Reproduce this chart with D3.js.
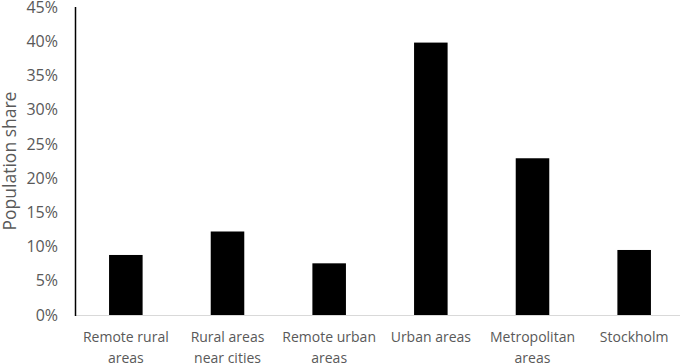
<!DOCTYPE html>
<html>
<head>
<meta charset="utf-8">
<script src="https://cdn.jsdelivr.net/npm/d3@7"></script>
<style>
  body { margin: 0; background: #fff; }
  svg { display: block; }
  text { font-family: "Open Sans", sans-serif; fill: #595959; }
</style>
</head>
<body>
<svg id="chart" width="685" height="363"></svg>
<script>
// Population share by area type
var categories = [
  ["Remote rural", "areas"],
  ["Rural areas", "near cities"],
  ["Remote urban", "areas"],
  ["Urban areas"],
  ["Metropolitan", "areas"],
  ["Stockholm"]
];
var shares = [0.0877, 0.122, 0.0755, 0.398, 0.229, 0.095];
var yTicks = [0, 0.05, 0.10, 0.15, 0.20, 0.25, 0.30, 0.35, 0.40, 0.45];

var svg = d3.select("#chart"),
    margin = { top: 7, right: 0, bottom: 48, left: 75 },
    width = 685 - margin.left - margin.right,
    height = 363 - margin.top - margin.bottom;

var g = svg.append("g")
    .attr("transform", "translate(" + margin.left + "," + margin.top + ")");

var x = d3.scaleBand()
    .domain(d3.range(categories.length))
    .range([0, width])
    .paddingInner(0.67)
    .paddingOuter(0.335);

var y = d3.scaleLinear()
    .domain([0, 0.45])
    .range([height, 0]);

// y axis ticks (no tick marks, just labels)
var yAxis = g.append("g")
    .call(d3.axisLeft(y).tickValues(yTicks).tickFormat(d3.format(".0%")).tickSize(0).tickPadding(17));
yAxis.select(".domain").remove();
yAxis.selectAll("text")
    .style("font-size", "16px")
    .attr("fill", "#595959");

// bars
g.selectAll(".bar")
    .data(shares)
    .enter()
    .append("rect")
    .attr("class", "bar")
    .attr("x", function(d, i) { return x(i); })
    .attr("y", function(d) { return y(d); })
    .attr("width", x.bandwidth())
    .attr("height", function(d) { return height - y(d); })
    .attr("fill", "#000");

// baseline
g.append("line")
    .attr("x1", 0).attr("x2", width - 5)
    .attr("y1", height + 0.5).attr("y2", height + 0.5)
    .attr("stroke", "#d9d9d9")
    .attr("stroke-width", 1);

// vertical axis line
g.append("line")
    .attr("x1", 0.5).attr("x2", 0.5)
    .attr("y1", 0).attr("y2", height + 1)
    .attr("stroke", "#000")
    .attr("stroke-width", 1.5);

// category labels, two lines where needed
var labels = g.selectAll(".cat")
    .data(categories)
    .enter()
    .append("text")
    .attr("class", "cat")
    .attr("text-anchor", "middle")
    .attr("transform", function(d, i) {
        return "translate(" + (x(i) + x.bandwidth() / 2) + "," + (height + 27) + ")";
    })
    .style("font-size", "14px");

labels.selectAll("tspan")
    .data(function(d) { return d; })
    .enter()
    .append("tspan")
    .attr("x", 0)
    .attr("dy", function(d, i) { return i === 0 ? 0 : 21; })
    .text(function(d) { return d; });

// y axis title
svg.append("text")
    .attr("transform", "translate(16," + (margin.top + height / 2) + ") rotate(-90)")
    .attr("text-anchor", "middle")
    .style("font-size", "17.5px")
    .text("Population share");
</script>
</body>
</html>
